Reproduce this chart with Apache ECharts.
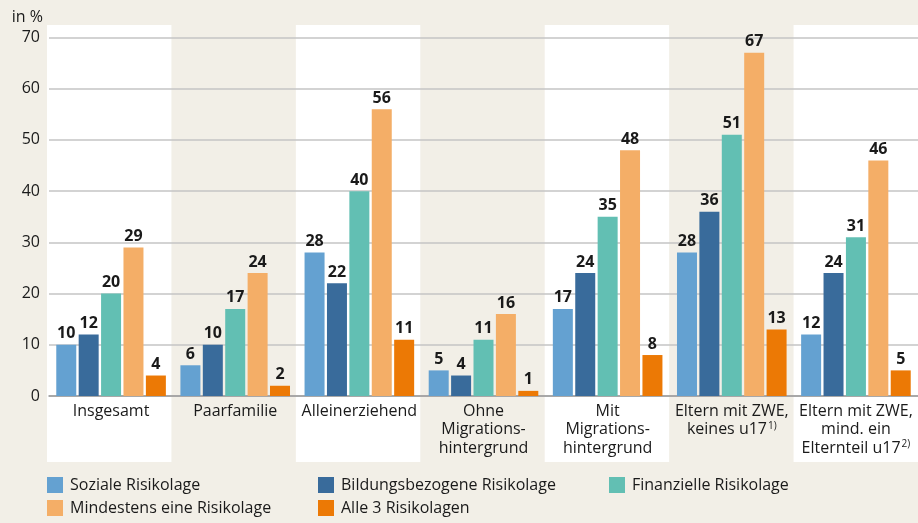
<!DOCTYPE html>
<html><head><meta charset="utf-8">
<script src="https://cdn.jsdelivr.net/npm/echarts@6/dist/echarts.min.js"></script>
<style>html,body{margin:0;padding:0;background:#f2efe7}#c{width:918px;height:523px}</style>
</head><body><div id="c"></div>
<script>
const categories = ['Insgesamt','Paarfamilie','Alleinerziehend','Ohne\nMigrations-\nhintergrund','Mit\nMigrations-\nhintergrund','Eltern mit ZWE,\nkeines u17','Eltern mit ZWE,\nmind. ein\nElternteil u17'];
const footnotes = ['','','','','','1)','2)'];
const seriesNames = ['Soziale Risikolage','Bildungsbezogene Risikolage','Finanzielle Risikolage','Mindestens eine Risikolage','Alle 3 Risikolagen'];
const soziale = [10,6,28,5,17,28,12];
const bildung = [12,10,22,4,24,36,24];
const finanz = [20,17,40,11,35,51,31];
const mindestens = [29,24,56,16,48,67,46];
const alle3 = [4,2,11,1,8,13,5];
const yTicks = [0,10,20,30,40,50,60,70];

const colors = ['#64a1d1','#396b9b','#62bfb3','#f4ae67','#ec7905'];
const values = [soziale,bildung,finanz,mindestens,alle3];
const FONT = '"Open Sans", "Noto Sans", sans-serif';

const chart = echarts.init(document.getElementById('c'), null, {renderer:'canvas'});
const legendPos = [[47,477],[318,477],[609,477],[47,500],[318,500]];
const option = {
  backgroundColor:'#f2efe7',
  animation:false,
  textStyle:{fontFamily:FONT},
  grid:[
    {left:49,right:-2,top:37.5,bottom:127,containLabel:false},
    {left:47,right:0,top:25,bottom:61,containLabel:false}
  ],
  legend: seriesNames.map((n,i)=>({
    data:[n], left:legendPos[i][0], top:legendPos[i][1], padding:0, itemWidth:16, itemHeight:16, itemGap:0,
    textStyle:{fontFamily:FONT,fontSize:16,color:'#1a1a1a',padding:[0,0,0,2]}, icon:'rect', selectedMode:false
  })),
  xAxis:[
    {type:'category',gridIndex:0,data:categories,
     axisLine:{lineStyle:{color:'#9a9a9a',width:1.5}},axisTick:{show:false},
     axisLabel:{interval:0,margin:6,
       formatter:(v,idx)=>{const lines=v.split('\n');return lines.map((l,k)=>'{a|'+l+'}'+(k===lines.length-1&&footnotes[idx]?'{s|'+footnotes[idx]+'}':'')).join('\n');},
       rich:{a:{fontFamily:FONT,fontSize:16,color:'#1a1a1a',lineHeight:18.5},
             s:{fontFamily:FONT,fontSize:10,color:'#1a1a1a',lineHeight:18.5,padding:[0,0,8,1]}}}
    },
    {type:'category',gridIndex:1,data:categories,show:true,
     axisLine:{show:false},axisTick:{show:false},axisLabel:{show:false},
     splitArea:{show:true,areaStyle:{color:['#ffffff','rgba(0,0,0,0)']}}, z:-1}
  ],
  yAxis:[
    {type:'value',gridIndex:0,min:0,max:70,interval:10,
     axisLine:{show:false},axisTick:{show:false},
     axisLabel:{margin:9,fontFamily:FONT,fontSize:16,color:'#1a1a1a',formatter:v=>yTicks.includes(v)?String(v):''},
     splitLine:{lineStyle:{color:'#c4c4c4',width:1.5}},
     name:'in %',nameLocation:'end',nameGap:12,
     nameTextStyle:{fontFamily:FONT,fontSize:16,color:'#1a1a1a',align:'right',padding:[0,6,0,0]}},
    {type:'value',gridIndex:1,min:0,max:1,show:false,splitLine:{show:false}}
  ],
  series: values.map((d,i)=>({
    name:seriesNames[i],type:'bar',xAxisIndex:0,yAxisIndex:0,data:d,
    barWidth:20,barGap:'12%',barCategoryGap:'11%',
    itemStyle:{color:colors[i]},
    label:{show:true,position:'top',distance:3,fontFamily:FONT,fontWeight:'bold',fontSize:16,color:'#1a1a1a'}
  }))
};
chart.setOption(option);
</script></body></html>
